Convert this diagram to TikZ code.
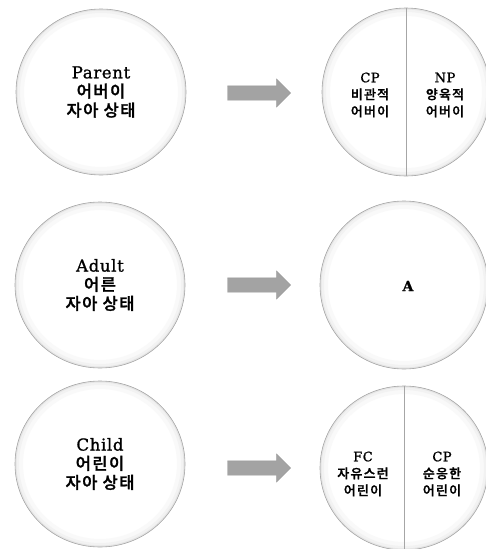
\documentclass[tikz,border=0pt]{standalone}
\usepackage{fontspec}
\setmainfont{DejaVu Serif}[FakeBold=1.2, LetterSpace=4]
\newfontfamily\kr{Noto Sans CJK KR Medium}[FakeBold=1.5, LetterSpace=9]
\usetikzlibrary{shapes.geometric,shapes.arrows}
\tikzset{
  ego/.style n args={2}{ellipse, draw=gray!70, line width=0.6pt, fill=white,
    minimum width=#1, minimum height=#2, inner sep=0pt,
    path picture={
      \draw[gray!5, line width=16pt] (path picture bounding box.center) ellipse [x radius=#1/2, y radius=#2/2];
      \draw[gray!10, line width=8pt] (path picture bounding box.center) ellipse [x radius=#1/2, y radius=#2/2];
      \draw[gray!20, line width=3pt] (path picture bounding box.center) ellipse [x radius=#1/2, y radius=#2/2];
    }},
  bigtxt/.style={align=center, font=\fontsize{16.5}{19}\selectfont, inner sep=0pt},
  smalltxt/.style={align=center, font=\fontsize{13}{17}\selectfont, inner sep=0pt},
  divider/.style={draw=gray!70, line width=0.7pt},
  blockarrow/.style={single arrow, draw=gray!80, fill=gray!72, line width=0.3pt,
    minimum height=63pt, minimum width=28pt, inner sep=7pt, single arrow head extend=7pt},
}
\begin{document}
\begin{tikzpicture}[x=1pt,y=-1pt]
\useasboundingbox (0,0) rectangle (486,549);
% left circles
\node[ego={170pt}{166pt}] (P) at (101,92) {};
\node[ego={170pt}{166pt}] (Ad) at (100,285) {};
\node[ego={170pt}{166pt}] (Ch) at (100,464) {};
\node[bigtxt] (Ptxt) at (P) {Parent\\{\kr 어버이}\\{\kr 자아 상태}};
\node[bigtxt] (Atxt) at (Ad) {Adult\\{\kr 어른}\\{\kr 자아 상태}};
\node[bigtxt] (Ctxt) at (Ch) {Child\\{\kr 어린이}\\{\kr 자아 상태}};
% arrows
\node[blockarrow] (ar1) at (255.5,93) {};
\node[blockarrow] (ar2) at (255.5,285) {};
\node[blockarrow] (ar3) at (255.5,468) {};
% right circles
\node[ego={168pt}{168pt}] (R1) at (406,92) {};
\node[ego={168pt}{168pt}] (R2) at (404,285) {};
\node[ego={168pt}{164pt}] (R3) at (404,468) {};
\draw[divider] (R1.north) -- (R1.south);
\draw[divider] (R3.north) -- (R3.south);
\node[smalltxt] (cp1) at (370,95) {CP\\{\kr 비관적}\\{\kr 어버이}};
\node[smalltxt] (np1) at (445,95) {NP\\{\kr 양육적}\\{\kr 어버이}};
\node[smalltxt, font=\fontsize{14}{17}\selectfont\bfseries] (a2) at (408,286) {A};
\node[smalltxt] (fc3) at (363,474) {FC\\{\kr 자유스런}\\{\kr 어린이}};
\node[smalltxt] (cp3) at (442,474) {CP\\{\kr 순응한}\\{\kr 어린이}};
\end{tikzpicture}
\end{document}
